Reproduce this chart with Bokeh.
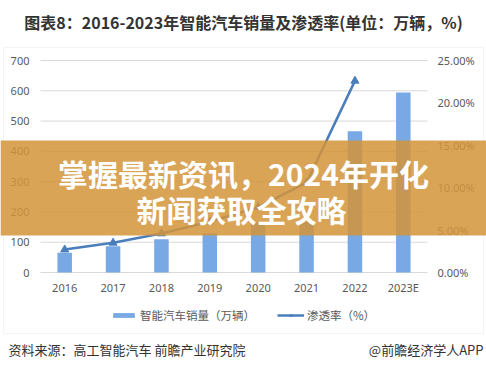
from bokeh.plotting import figure
from bokeh.models import (Range1d, ColumnDataSource, Label, BoxAnnotation, Legend, LegendItem)
from bokeh.core.properties import value
from bokeh.embed import file_html
from bokeh.resources import INLINE

# ---- data ----
years = ["2016", "2017", "2018", "2019", "2020", "2021", "2022", "2023E"]
sales = [65, 87, 110, 130, 167, 175, 466, 594]          # 万辆
rate_years = ["2016", "2017", "2018", "2019", "2020", "2021", "2022"]
rate = [2.7, 3.5, 4.6, 6.0, 7.7, 10.6, 22.6]             # %
left_ticks = [0, 100, 200, 300, 400, 500, 600, 700]
right_ticks = [0, 5, 10, 15, 20, 25]

title_text = "图表8：2016-2023年智能汽车销量及渗透率(单位：万辆，%)"
banner1 = "掌握最新资讯，2024年开化"
banner2 = "新闻获取全攻略"
source_text = "资料来源：高工智能汽车 前瞻产业研究院"
brand_text = "@前瞻经济学人APP"

CJK = "Noto Sans CJK SC"
NUM = "Noto Sans"
TICK = "#595959"

W, H = 486, 377
# plot-area placement in pixels (left, right, top, bottom measured from canvas top-left)
PL, PR, PT, PB = 40, 427, 60, 272
n = len(years)
px_per_cat = (PR - PL) / n
x0 = -0.5 - PL / px_per_cat
x1 = -0.5 + (W - PL) / px_per_cat
ymax_l, ymax_r = left_ticks[-1], right_ticks[-1]
upp_l = ymax_l / (PB - PT)
upp_r = ymax_r / (PB - PT)

p = figure(width=W, height=H, x_range=Range1d(x0, x1),
           y_range=Range1d(-(H - PB) * upp_l, ymax_l + PT * upp_l),
           output_backend="svg", toolbar_location=None,
           min_border=0, x_axis_type=None, y_axis_type=None,
           background_fill_color="white", border_fill_color="white")
p.outline_line_color = None
p.grid.visible = False
p.extra_y_ranges = {"rate": Range1d(-(H - PB) * upp_r, ymax_r + PT * upp_r)}

idx = list(range(n))
idx_of = {y: i for i, y in enumerate(years)}
xl, xr = -0.5, n - 0.5

# gridlines
p.segment(x0=xl, x1=xr, y0=left_ticks, y1=left_ticks, line_color="#D9D9D9", line_width=1)

# tick labels (through the scales)
p.text(x=xl, y=left_ticks, text=[str(t) for t in left_ticks], x_offset=-11,
       text_align="right", text_baseline="middle", text_font=value(NUM),
       text_font_size="11px", text_color=TICK)
p.text(x=xr, y=right_ticks, text=["%.2f%%" % t for t in right_ticks], x_offset=10,
       y_range_name="rate", text_align="left", text_baseline="middle",
       text_font=value(NUM), text_font_size="11px", text_color=TICK)
p.text(x=idx, y=0, text=years, y_offset=15, text_align="center", text_baseline="middle",
       text_font=value(NUM), text_font_size="11px", text_color=TICK)

# glyphs
src = ColumnDataSource(dict(x=idx, sales=sales))
bars = p.vbar(x="x", top="sales", width=0.3, source=src, fill_color="#78A9E4", line_color=None)
lsrc = ColumnDataSource(dict(x=[idx_of[y] for y in rate_years], rate=rate))
ln = p.line(x="x", y="rate", source=lsrc, y_range_name="rate", line_color="#4A7EBB", line_width=2.5)
pts = p.scatter(x="x", y="rate", source=lsrc, y_range_name="rate", marker="triangle",
                size=8, fill_color="#4A7EBB", line_color="#4A7EBB")

legend = Legend(items=[LegendItem(label="智能汽车销量（万辆）", renderers=[bars]),
                       LegendItem(label="渗透率（%）", renderers=[ln, pts])],
                orientation="horizontal", location=(110, 54), border_line_color=None,
                background_fill_alpha=0, label_text_font=CJK, label_text_font_size="11.5px",
                label_text_color=TICK, glyph_width=27, glyph_height=6, spacing=22,
                label_standoff=3, padding=0, margin=0)
p.add_layout(legend)

# chart border
p.add_layout(BoxAnnotation(left=3, right=483, top=H - 47, bottom=H - 333,
                           left_units="screen", right_units="screen", top_units="screen",
                           bottom_units="screen", fill_alpha=0, line_color="#D9D9D9",
                           line_width=1, level="underlay"))

# title and footer
p.add_layout(Label(x=243, y=H - 21, x_units="screen", y_units="screen", text=title_text,
                   text_font=CJK, text_font_size="16px", text_font_style="bold",
                   text_color="#333333", text_align="center", text_baseline="middle"))
p.add_layout(Label(x=8, y=H - 349, x_units="screen", y_units="screen", text=source_text,
                   text_font=CJK, text_font_size="13px", text_color="#333333",
                   text_align="left", text_baseline="middle"))
p.add_layout(Label(x=483, y=H - 349, x_units="screen", y_units="screen", text=brand_text,
                   text_font=CJK, text_font_size="13px", text_color="#333333",
                   text_align="right", text_baseline="middle"))

# banner overlay
p.add_layout(BoxAnnotation(left=0, right=W, top=H - 140, bottom=H - 235,
                           left_units="screen", right_units="screen", top_units="screen",
                           bottom_units="screen", fill_color="#D4943A", fill_alpha=0.85,
                           line_color=None, level="overlay"))
p.add_layout(Label(x=243, y=H - 172, x_units="screen", y_units="screen", text=banner1,
                   text_font=CJK, text_font_size="30px", text_font_style="bold",
                   text_color="white", text_align="center", text_baseline="middle",
                   level="overlay"))
p.add_layout(Label(x=241, y=H - 208, x_units="screen", y_units="screen", text=banner2,
                   text_font=CJK, text_font_size="30px", text_font_style="bold",
                   text_color="white", text_align="center", text_baseline="middle",
                   level="overlay"))

open("out.html", "w").write(file_html(p, INLINE))
